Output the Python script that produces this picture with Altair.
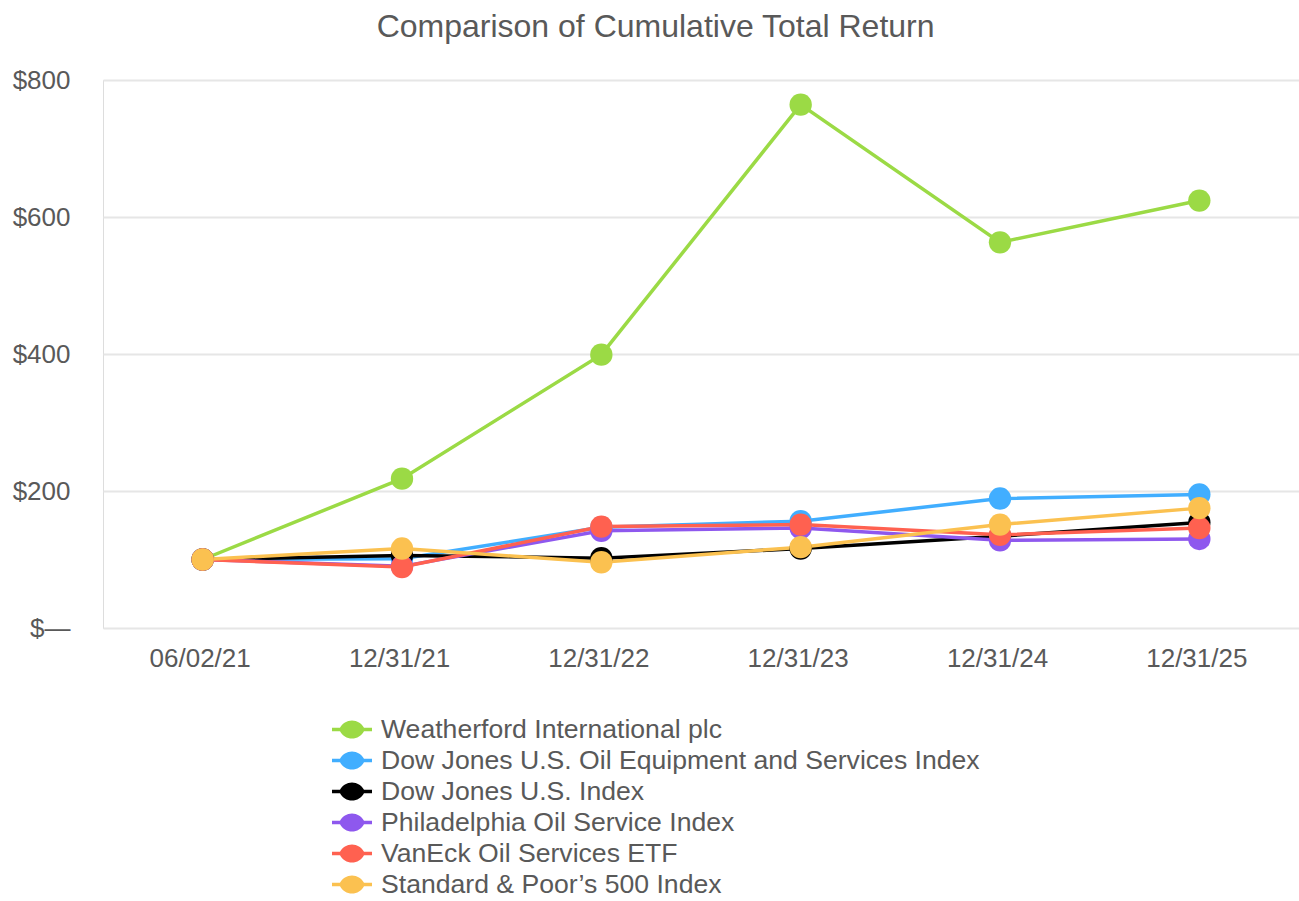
import altair as alt
import pandas as pd

dates = ["06/02/21", "12/31/21", "12/31/22", "12/31/23", "12/31/24", "12/31/25"]
series_names = [
    "Weatherford International plc",
    "Dow Jones U.S. Oil Equipment and Services Index",
    "Dow Jones U.S. Index",
    "Philadelphia Oil Service Index",
    "VanEck Oil Services ETF",
    "Standard & Poor\u2019s 500 Index",
]
weatherford = [100, 218, 399, 764, 563, 624]
dj_oil_equip = [100, 101, 147, 156, 189, 195]
dj_us = [100, 106, 102, 116, 134, 154]
philadelphia = [100, 90, 142, 146, 128, 130]
vaneck = [100, 89, 148, 151, 136, 146]
sp500 = [100, 116, 96, 118, 151, 175]
colors = ["#9BDA45", "#41AEFF", "#000000", "#8E58EE", "#FF6150", "#FBC150"]

all_values = [weatherford, dj_oil_equip, dj_us, philadelphia, vaneck, sp500]
rows = []
for i, (name, vals) in enumerate(zip(series_names, all_values)):
    for d, v in zip(dates, vals):
        rows.append({"date": d, "series": name, "value": v, "order": i})
df = pd.DataFrame(rows)

FONT = "Liberation Sans"
TXT = "#595959"
legend_shape = ("M-1,-0.09 L-0.6,-0.09 A0.675,0.675 0 0,1 0.6,-0.09 L1,-0.09 L1,0.09 "
                "L0.6,0.09 A0.675,0.675 0 0,1 -0.6,0.09 L-1,0.09 Z")

color = alt.Color(
    "series:N",
    scale=alt.Scale(domain=series_names, range=colors),
    sort=series_names,
    legend=alt.Legend(
        title=None,
        orient="none",
        legendX=229,
        legendY=634,
        direction="vertical",
        symbolType=legend_shape,
        symbolSize=1600,
        symbolStrokeWidth=0,
        symbolOpacity=1,
        labelFont=FONT,
        labelFontSize=26.6,
        labelColor=TXT,
        labelOffset=9,
        labelLimit=1000,
        rowPadding=0,
        clipHeight=31,
    ),
)

x = alt.X(
    "date:N",
    sort=dates,
    scale=alt.Scale(padding=0.5),
    axis=alt.Axis(
        title=None, labelAngle=0, domain=False, ticks=False, grid=False,
        labelFont=FONT, labelFontSize=26, labelColor=TXT, labelPadding=17, labelOffset=-3,
    ),
)
y = alt.Y(
    "value:Q",
    scale=alt.Scale(domain=[0, 800], nice=False),
    axis=alt.Axis(
        title=None, values=[0, 200, 400, 600, 800], domain=False, ticks=False,
        grid=True, gridColor="#E6E6E6", gridWidth=2,
        labelExpr="datum.value == 0 ? '$\u2014' : '$' + datum.value",
        labelFont=FONT, labelFontSize=26, labelColor=TXT, labelPadding=33,
    ),
)

base = alt.Chart(df).encode(x=x, y=y, color=color, order=alt.Order("order:Q"))
lines = base.mark_line(strokeWidth=3.5)
points = base.mark_point(filled=True, size=500, opacity=1, shape="circle")

chart = (
    alt.layer(lines, points)
    .properties(
        width=1196,
        height=548,
        padding={"left": 103, "top": 80, "right": 0, "bottom": 273},
        autosize=alt.AutoSizeParams(type="none"),
        title=alt.TitleParams(
            "Comparison of Cumulative Total Return",
            font=FONT, fontSize=32, fontWeight="normal", color=TXT,
            anchor="middle", frame="bounds", baseline="alphabetic", offset=0, dy=2,
        ),
    )
    .configure_view(stroke="transparent", strokeOpacity=0, strokeWidth=0)
    .configure_axis(domain=False, ticks=False, domainColor="transparent", domainOpacity=0)
    .configure_axisX(grid=False)
    .configure(background="white")
)

chart.save("out.html", embed_options={"renderer": "svg", "actions": False})
